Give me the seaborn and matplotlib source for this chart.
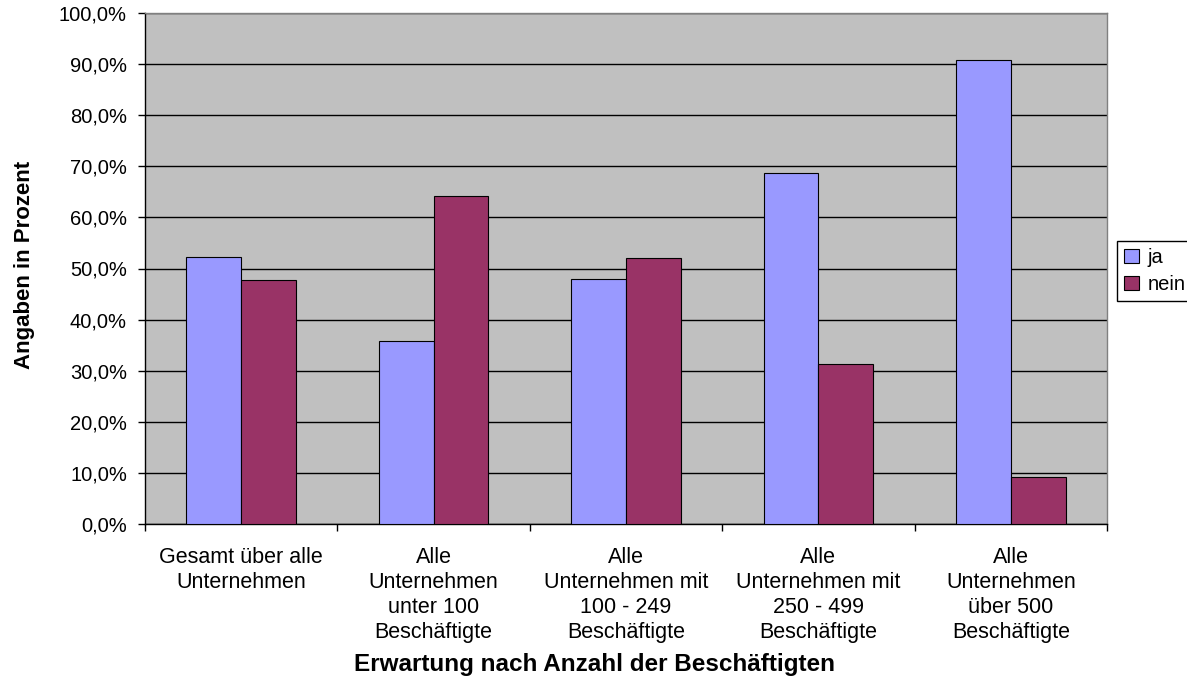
import matplotlib
matplotlib.use("Agg")
import matplotlib.pyplot as plt
import seaborn as sns
import pandas as pd
from matplotlib.ticker import FuncFormatter, MultipleLocator, FixedLocator
from matplotlib.patches import Patch

categories = [
    "Gesamt über alle\nUnternehmen",
    "Alle\nUnternehmen\nunter 100\nBeschäftigte",
    "Alle\nUnternehmen mit\n100 - 249\nBeschäftigte",
    "Alle\nUnternehmen mit\n250 - 499\nBeschäftigte",
    "Alle\nUnternehmen\nüber 500\nBeschäftigte",
]
ja = [52.2, 35.9, 47.9, 68.7, 90.9]
nein = [47.8, 64.1, 52.1, 31.3, 9.1]
series_names = ["ja", "nein"]
colors = ["#9999FF", "#993366"]

df = pd.DataFrame({
    "Kategorie": categories * 2,
    "Wert": ja + nein,
    "Antwort": [series_names[0]] * len(categories) + [series_names[1]] * len(categories),
})

sns.set_style("white")
plt.rcParams["font.family"] = ["Liberation Sans", "DejaVu Sans"]
plt.rcParams["text.color"] = "black"
plt.rcParams["axes.labelcolor"] = "black"
plt.rcParams["xtick.color"] = "black"
plt.rcParams["ytick.color"] = "black"

W, H = 1187, 682
fig = plt.figure(figsize=(W / 100, H / 100), dpi=100)
ax = fig.add_axes([145 / W, 1 - 524 / H, (1107 - 145) / W, (524 - 13) / H])

sns.barplot(data=df, x="Kategorie", y="Wert", hue="Antwort", palette=colors,
            width=0.57, edgecolor="black", linewidth=0.8, saturation=1,
            ax=ax, legend=False, zorder=3)

ax.set_facecolor("#C0C0C0")
ax.set_ylim(0, 100)
ax.set_xlim(-0.5, len(categories) - 0.5)
ax.yaxis.set_major_locator(MultipleLocator(10))
ax.yaxis.set_major_formatter(FuncFormatter(lambda v, p: f"{v:.1f}%".replace(".", ",")))
ax.grid(axis="y", color="black", linewidth=1.0, zorder=1)
ax.set_axisbelow(True)

for s in ["left", "bottom"]:
    ax.spines[s].set_color("black")
    ax.spines[s].set_linewidth(1.0)
for s in ["top", "right"]:
    ax.spines[s].set_color("#808080")
    ax.spines[s].set_linewidth(1.0)

ax.tick_params(axis="y", which="major", direction="out", length=5, width=1, color="black",
               left=True, labelsize=14.5, pad=8)
ax.set_xticks(range(len(categories)))
ax.set_xticklabels(categories, fontsize=15.5, linespacing=1.25, va="top")
ax.tick_params(axis="x", which="major", length=0, pad=16.5)
ax.xaxis.set_minor_locator(FixedLocator([i - 0.5 for i in range(len(categories) + 1)]))
ax.tick_params(axis="x", which="minor", direction="out", length=5, width=1, color="black", bottom=True)

ax.set_xlabel("Erwartung nach Anzahl der Beschäftigten", fontsize=17.5, fontweight="bold")
ax.xaxis.set_label_coords((594 - 145) / 962, (524 - 665) / 511)
ax.xaxis.label.set_verticalalignment("center")
ax.set_ylabel("Angaben in Prozent", fontsize=16, fontweight="bold")
ax.yaxis.set_label_coords((25 - 145) / 962, (524 - 265) / 511)
ax.yaxis.label.set_verticalalignment("center")

handles = [Patch(facecolor=c, edgecolor="black", linewidth=0.8) for c in colors]
leg = fig.legend(handles, series_names, loc="upper left",
                 bbox_to_anchor=(1117 / W, 1 - 241 / H), fontsize=14.5,
                 frameon=True, fancybox=False, edgecolor="black", framealpha=1,
                 handlelength=0.75, handleheight=0.75, handletextpad=0.4,
                 borderpad=0.35, labelspacing=0.4, borderaxespad=0)
leg.get_frame().set_linewidth(1.0)

fig.savefig("out.png", dpi=100)
